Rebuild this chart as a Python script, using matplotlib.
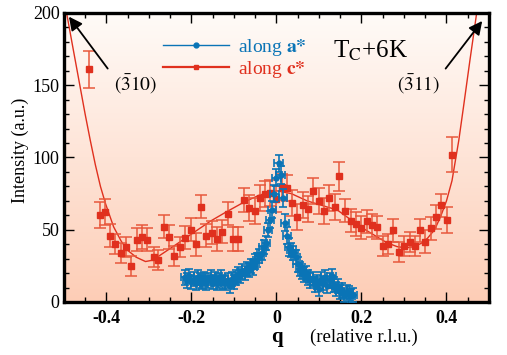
import numpy as np
import matplotlib
matplotlib.use('Agg')
import matplotlib.pyplot as plt
from matplotlib.lines import Line2D
from matplotlib.ticker import MultipleLocator

plt.rcParams['font.family'] = ['Liberation Serif', 'DejaVu Serif']
plt.rcParams['mathtext.fontset'] = 'stix'

# along c* (red) : q, intensity, error
red_q = [-0.441, -0.416, -0.404, -0.391, -0.379, -0.366, -0.354, -0.341, -0.329, -0.316,
         -0.304, -0.289, -0.278, -0.265, -0.253, -0.241, -0.228, -0.215, -0.202, -0.190,
         -0.177, -0.165, -0.152, -0.140, -0.127, -0.115, -0.102, -0.090, -0.077, -0.064,
         -0.051, -0.039, -0.027, -0.014, -0.002, 0.012, 0.024, 0.036, 0.049, 0.062,
         0.074, 0.087, 0.099, 0.111, 0.124, 0.137, 0.148, 0.162, 0.175, 0.187,
         0.199, 0.213, 0.224, 0.237, 0.250, 0.262, 0.275, 0.288, 0.300, 0.313,
         0.325, 0.337, 0.350, 0.363, 0.376, 0.388, 0.401, 0.413]
red_I = [161, 60, 62, 46, 40, 34, 38, 25, 43, 45,
         43, 31, 29, 52, 45, 32, 38, 44.5, 50, 40,
         66, 46, 48, 43.6, 48.7, 61, 43.6, 43.6, 70.6, 64.8,
         63.2, 71.8, 74.7, 75.2, 71, 79.8, 78.7, 68.7, 59, 66.9,
         64.1, 77, 69.9, 63.2, 71.8, 65.5, 87, 63.2, 56.3, 54,
         51.4, 56, 53, 51.7, 38.8, 39.9, 49.6, 34.8, 38.8, 41.7,
         38.8, 49.6, 41.7, 51, 58.8, 66.9, 56.7, 102]
red_err = [13, 9, 9, 8, 7, 7, 7, 7, 8, 8,
           8, 7, 7, 8, 8, 7, 7, 8, 8, 8,
           8, 8, 8, 8, 8, 8, 8, 8, 8, 9,
           9, 9, 9, 9, 9, 9, 9, 9, 9, 9,
           9, 9, 9, 9, 9, 9, 10, 8, 8, 8,
           8, 8, 8, 8, 7, 7, 8, 7, 7, 7,
           7, 8, 8, 8, 8, 8, 9, 12]

# fit curve along c*
fit_q = [-0.493, -0.48, -0.465, -0.45, -0.438, -0.426, -0.414, -0.402, -0.383, -0.365,
         -0.351, -0.33, -0.308, -0.29, -0.273, -0.24, -0.21, -0.18, -0.155, -0.12,
         -0.077, -0.04, 0.0, 0.035, 0.072, 0.105, 0.143, 0.17, 0.198, 0.237,
         0.26, 0.284, 0.305, 0.323, 0.34, 0.355, 0.372, 0.386, 0.40, 0.413,
         0.429, 0.44, 0.455, 0.471]
fit_I = [199, 178, 154, 130, 112, 95, 80, 68, 52, 42,
         36, 31, 28, 29, 32.5, 39, 45, 51, 56, 62,
         69, 74, 77, 75, 70, 67, 63.7, 58, 52, 45,
         41, 38.3, 37.5, 38.3, 40.5, 44, 50, 59, 70, 84,
         112, 135, 167, 200]

# along a* (blue)
blue_q = [-0.215, -0.210, -0.205, -0.200, -0.195, -0.190, -0.185, -0.180, -0.175, -0.170,
          -0.165, -0.160, -0.155, -0.150, -0.145, -0.140, -0.135, -0.130, -0.125, -0.120,
          -0.115, -0.110, -0.105, -0.100, -0.095, -0.090, -0.085, -0.080, -0.075, -0.070,
          -0.065, -0.060, -0.055, -0.050, -0.045, -0.040, -0.035, -0.030, -0.025, -0.020,
          -0.015, -0.010, -0.005, 0.000, 0.005, 0.010, 0.015, 0.020, 0.025, 0.030,
          0.035, 0.040, 0.045, 0.050, 0.055, 0.060, 0.065, 0.070, 0.075, 0.080,
          0.085, 0.090, 0.095, 0.100, 0.105, 0.110, 0.115, 0.120, 0.125, 0.130,
          0.135, 0.140, 0.145, 0.150, 0.155, 0.160, 0.165, 0.170, 0.175, 0.180]
blue_I = [17, 15, 18, 14, 16, 13, 17, 15, 14, 16,
          13, 15, 17, 14, 16, 13, 15, 17, 14, 13,
          15, 11, 16, 14, 17, 19, 18, 21, 20, 23,
          22, 25, 24, 28, 29, 32, 34, 38, 41, 50,
          57, 64, 75, 86, 96, 88, 72, 55, 46, 38,
          36, 34, 31, 26, 23, 21, 19, 20, 17, 15,
          16, 12, 14, 9, 16, 13, 17, 11, 15, 18,
          12, 9, 11, 7, 8, 5, 7, 6, 4, 5]
blue_err = [5] * 40 + [6] * 10 + [5] * 30

red = '#e0301e'
red_bar = '#e8583c'
blue = '#0a74b6'

fig = plt.figure(figsize=(5.07, 3.55), dpi=100)
ax = fig.add_axes([0.126, 0.1493, 0.8385, 0.8141])

# peach gradient background
grad = np.linspace(0, 1, 256).reshape(-1, 1)
top = np.array([255, 251, 248]) / 255
bot = np.array([253, 205, 182]) / 255
img = top + (bot - top) * grad[..., None]
ax.imshow(img, extent=[0, 1, 0, 1], transform=ax.transAxes, aspect='auto', zorder=0)

ax.plot(fit_q, fit_I, color=red, lw=1.0, zorder=2)
ax.errorbar(red_q, red_I, yerr=red_err, fmt='s', ms=4.5, color=red, ecolor=red_bar,
            elinewidth=1.1, capsize=4, capthick=1.1, zorder=3)
ax.errorbar(blue_q, blue_I, yerr=blue_err, xerr=0.01, fmt='o', ms=3.5, color=blue,
            ecolor=blue, elinewidth=1.2, capsize=3, capthick=1.2, zorder=4)

ax.set_xlim(-0.5, 0.5)
ax.set_ylim(0, 200)
ax.xaxis.set_minor_locator(MultipleLocator(0.05))
ax.yaxis.set_major_locator(MultipleLocator(50))
ax.yaxis.set_minor_locator(MultipleLocator(10))
ax.tick_params(which='both', direction='in', top=True, right=True, width=1.0)
ax.tick_params(which='major', length=7)
ax.tick_params(which='minor', length=3.5)
ax.tick_params(axis='x', labelsize=13, pad=6)
ax.tick_params(axis='y', labelsize=13, pad=3)
ax.set_xticks([-0.4, -0.2, 0, 0.2, 0.4])
ax.set_xticklabels(['-0.4', '-0.2', '0', '0.2', '0.4'], fontweight='bold')
for s in ax.spines.values():
    s.set_linewidth(2.4)

fig.text(20 / 507, 0.577, 'Intensity (a.u.)', rotation=90, ha='center', va='center', fontsize=13)
fig.text(277 / 507, 0.05, 'q', ha='center', va='center', fontsize=15, fontweight='bold')
fig.text(310 / 507, 0.05, '(relative r.l.u.)', ha='left', va='center', fontsize=13.5)

ax.text(0.132, 174, r'T$_{\mathrm{C}}$+6K', fontsize=18, ha='left', va='center')

ax.annotate('', xy=(-0.492, 199), xytext=(-0.393, 160),
            arrowprops=dict(arrowstyle='-|>', color='k', lw=1.3, mutation_scale=20))
ax.annotate('', xy=(0.488, 196), xytext=(0.394, 160),
            arrowprops=dict(arrowstyle='-|>', color='k', lw=1.3, mutation_scale=20))
ax.text(-0.332, 151, r'$(\bar{3}10)$', fontsize=14, ha='center', va='center')
ax.text(0.334, 151, r'$(\bar{3}11)$', fontsize=14, ha='center', va='center')

handles = [Line2D([], [], color=blue, lw=1.0, marker='o', ms=3.5),
           Line2D([], [], color=red, lw=1.6, marker='s', ms=3.5)]
leg = ax.legend(handles, [r'along $\mathbf{a{*}}$', r'along $\mathbf{c{*}}$'],
                loc='upper left', bbox_to_anchor=(0.215, 0.945), frameon=False,
                fontsize=14, handlelength=3.4, handletextpad=0.45, labelspacing=0.05,
                borderaxespad=0)
for t, c in zip(leg.get_texts(), [blue, red]):
    t.set_color(c)

fig.savefig('out.png', dpi=100)
